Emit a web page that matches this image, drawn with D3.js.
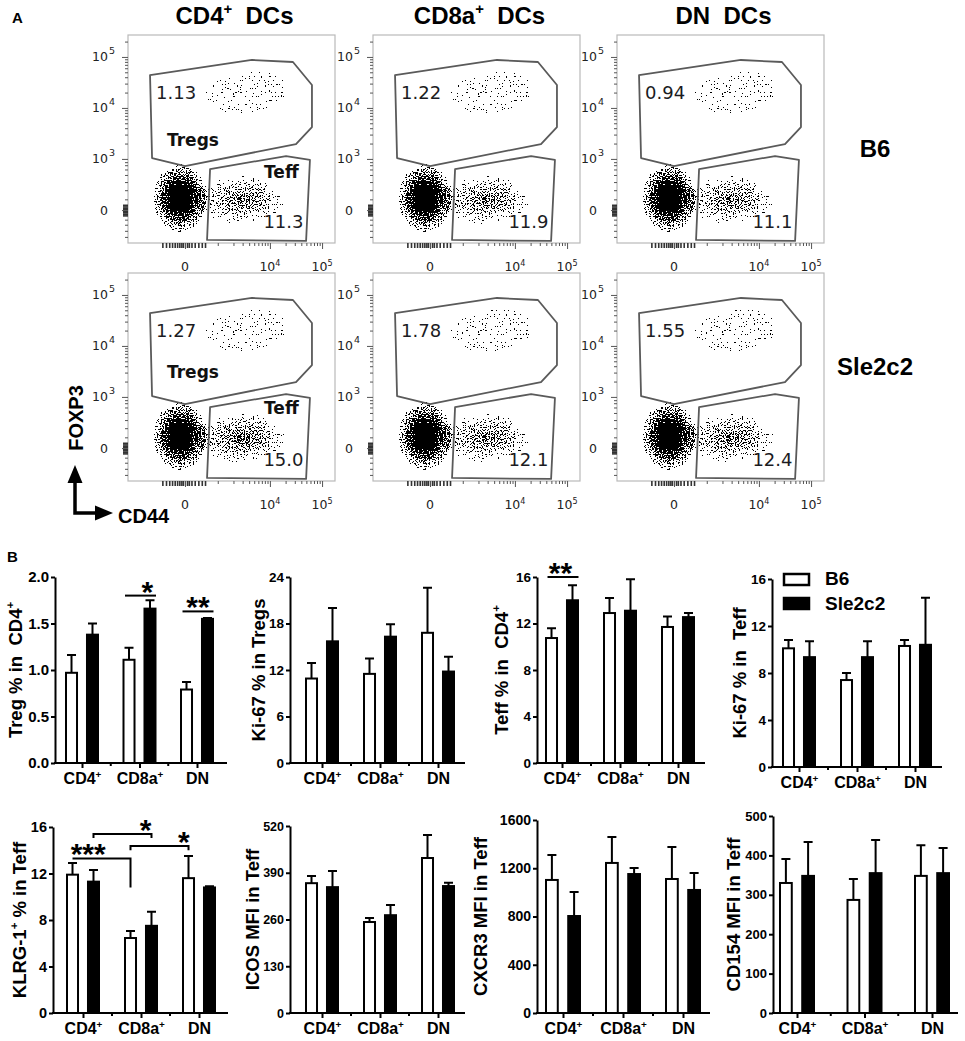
<!DOCTYPE html>
<html>
<head>
<meta charset="utf-8">
<title>DC subsets and CD4 T cells</title>
<script src="https://cdn.jsdelivr.net/npm/d3@7/dist/d3.min.js"></script>
<style>
  body { margin: 0; background: #fff; }
</style>
</head>
<body>
<script>
// ---------- data ----------
const dcSubsets = ["CD4^+  DCs", "CD8a^+  DCs", "DN  DCs"];
const strains = ["B6", "Sle2c2"];

// panel A: gate frequencies, rows = strains, columns = DC subsets
const tregGatePct = [[1.13, 1.22, 0.94], [1.27, 1.78, 1.55]];
const teffGatePct = [[11.3, 11.9, 11.1], [15.0, 12.1, 12.4]];

// panel A axes, in display channels (0-1024)
const flowXTicks = [282, 702, 960];
const flowXLabels = ["0", "10^4", "10^5"];
const flowYTicks = [162, 414, 665, 916];
const flowYLabels = ["0", "10^3", "10^4", "10^5"];

// gates, [CD44 channel, FOXP3 channel]
const tregGate = [[109, 827], [613, 901], [816, 891], [910, 778], [910, 571], [831, 487], [282, 379], [119, 418]];
const teffGate = [[406, 364], [782, 428], [900, 409], [881, 10], [391, 15]];

// cell clouds: [centre CD44, centre FOXP3, spread CD44, spread FOXP3]
const naiveCloud = [257, 222, 132, 168];
const teffCloud = [560, 212, 230, 128];
const tregCloud = [585, 740, 245, 115];

// panel B
const groups = ["CD4^+", "CD8a^+", "DN"];

const tregB6 = [0.97, 1.11, 0.79], tregB6Sem = [0.19, 0.13, 0.08];
const tregSle = [1.38, 1.66, 1.55], tregSleSem = [0.12, 0.09, 0.01];

const ki67TregB6 = [10.9, 11.5, 16.8], ki67TregB6Sem = [2.0, 2.0, 5.8];
const ki67TregSle = [15.7, 16.3, 11.8], ki67TregSleSem = [4.3, 1.6, 1.9];

const teffB6 = [10.75, 12.9, 11.7], teffB6Sem = [0.85, 1.3, 0.9];
const teffSle = [14.0, 13.1, 12.55], teffSleSem = [1.3, 2.7, 0.35];

const ki67TeffB6 = [10.1, 7.4, 10.3], ki67TeffB6Sem = [0.7, 0.6, 0.5];
const ki67TeffSle = [9.35, 9.35, 10.4], ki67TeffSleSem = [1.35, 1.35, 4.0];

const klrgB6 = [11.9, 6.45, 11.6], klrgB6Sem = [1.0, 0.6, 1.9];
const klrgSle = [11.3, 7.5, 10.8], klrgSleSem = [1.0, 1.2, 0.1];

const icosB6 = [361, 253, 431], icosB6Sem = [20, 11, 64];
const icosSle = [350, 272, 353], icosSleSem = [45, 28, 9];

const cxcr3B6 = [1103, 1244, 1111], cxcr3B6Sem = [207, 215, 265];
const cxcr3Sle = [804, 1152, 1020], cxcr3SleSem = [199, 50, 141];

const cd154B6 = [330, 287, 348], cd154B6Sem = [61, 53, 78];
const cd154Sle = [348, 355, 355], cd154SleSem = [86, 84, 64];

const tregSig = [
  {from: ["CD8a^+", "B6"], to: ["CD8a^+", "Sle2c2"], y: 1.80, label: "*"},
  {from: ["DN", "B6"], to: ["DN", "Sle2c2"], y: 1.63, label: "**"}
];
const teffSig = [
  {from: ["CD4^+", "B6"], to: ["CD4^+", "Sle2c2"], y: 16.0, label: "**"}
];
const klrgSig = [
  {from: ["CD4^+", "B6"], to: ["CD8a^+", "B6"], y: 13.3, yFrom: 13.3, yTo: 10.8, label: "***"},
  {from: ["CD4^+", "Sle2c2"], to: ["CD8a^+", "Sle2c2"], y: 15.4, yFrom: 15.05, yTo: 15.05, label: "*"},
  {from: ["CD8a^+", "B6"], to: ["DN", "B6"], y: 14.37, yFrom: 14.0, yTo: 14.0, label: "*"}
];

const charts = [
  {title: "Treg % in  CD4^+", b6: tregB6, b6Sem: tregB6Sem, sle: tregSle, sleSem: tregSleSem,
   ticks: [0, 0.5, 1.0, 1.5, 2.0], fmt: d3.format(".1f"), sig: tregSig},
  {title: "Ki-67 % in Tregs", b6: ki67TregB6, b6Sem: ki67TregB6Sem, sle: ki67TregSle, sleSem: ki67TregSleSem,
   ticks: [0, 6, 12, 18, 24], fmt: d3.format("d"), sig: []},
  {title: "Teff % in  CD4^+", b6: teffB6, b6Sem: teffB6Sem, sle: teffSle, sleSem: teffSleSem,
   ticks: [0, 4, 8, 12, 16], fmt: d3.format("d"), sig: teffSig},
  {title: "Ki-67 % in  Teff", b6: ki67TeffB6, b6Sem: ki67TeffB6Sem, sle: ki67TeffSle, sleSem: ki67TeffSleSem,
   ticks: [0, 4, 8, 12, 16], fmt: d3.format("d"), sig: [], legend: true},
  {title: "KLRG-1^+ % in Teff", b6: klrgB6, b6Sem: klrgB6Sem, sle: klrgSle, sleSem: klrgSleSem,
   ticks: [0, 4, 8, 12, 16], fmt: d3.format("d"), sig: klrgSig},
  {title: "ICOS MFI in Teff", b6: icosB6, b6Sem: icosB6Sem, sle: icosSle, sleSem: icosSleSem,
   ticks: [0, 130, 260, 390, 520], fmt: d3.format("d"), sig: []},
  {title: "CXCR3 MFI in Teff", b6: cxcr3B6, b6Sem: cxcr3B6Sem, sle: cxcr3Sle, sleSem: cxcr3SleSem,
   ticks: [0, 400, 800, 1200, 1600], fmt: d3.format("d"), sig: []},
  {title: "CD154 MFI in Teff", b6: cd154B6, b6Sem: cd154B6Sem, sle: cd154Sle, sleSem: cd154SleSem,
   ticks: [0, 100, 200, 300, 400, 500], fmt: d3.format("d"), sig: []}
];

// where each bar chart sits on the page
const layout = [
  {ax: 55,  end: 227, c1: 82,  c3: 197, base: 763,  top: 577, tx: 22,  half: 17, fs: 15,   starAt: [0.72, 0.5]},
  {ax: 290, end: 465, c1: 322, c3: 438, base: 763,  top: 577, tx: 265, half: 17, fs: 13.5},
  {ax: 537, end: 705, c1: 562, c3: 678, base: 763,  top: 577, tx: 508, half: 17, fs: 13.5, starAt: [0.42]},
  {ax: 772, end: 942, c1: 799, c3: 915, base: 767,  top: 579, tx: 746, half: 17, fs: 13.5},
  {ax: 53,  end: 228, c1: 83,  c3: 199, base: 1013, top: 827, tx: 26,  half: 17, fs: 14.5, starAt: [0.27, 0.9, 0.92]},
  {ax: 290, end: 465, c1: 322, c3: 438, base: 1013, top: 826, tx: 259, half: 17, fs: 12.5},
  {ax: 537, end: 710, c1: 563, c3: 683, base: 1013, top: 820, tx: 487, half: 18, fs: 14},
  {ax: 773, end: 958, c1: 797, c3: 932, base: 1013, top: 816, tx: 740, half: 18, fs: 13}
];

// ---------- drawing ----------
const FONT = '"Liberation Sans", Arial, Helvetica, sans-serif';
const FLOW_FONT = '"DejaVu Sans", Verdana, sans-serif';

const svg = d3.select("body").append("svg")
    .attr("width", 965)
    .attr("height", 1041)
    .attr("font-family", FONT);

// text with "^x" superscripts
function rich(sel, str, fs) {
  const parts = str.split("^");
  sel.append("tspan").text(parts[0]);
  parts.slice(1).forEach(p => {
    sel.append("tspan").attr("font-size", fs * 0.62).attr("dy", -fs * 0.42).text(p[0]);
    if (p.length > 1) sel.append("tspan").attr("font-size", fs).attr("dy", fs * 0.42).text(p.slice(1));
  });
}

const defs = svg.append("defs");

// speckle filter turns a soft density into scattered dots
const speckle = defs.append("filter").attr("id", "speckle")
    .attr("x", "-5%").attr("y", "-5%").attr("width", "110%").attr("height", "110%");
speckle.append("feTurbulence")
    .attr("type", "fractalNoise").attr("baseFrequency", 0.75)
    .attr("numOctaves", 1).attr("seed", 11).attr("result", "noise");
speckle.append("feColorMatrix")
    .attr("in", "noise").attr("type", "matrix")
    .attr("values", "0 0 0 0 0  0 0 0 0 0  0 0 0 0 0  2.5 0 0 0 -0.75")
    .attr("result", "grain");
speckle.append("feComposite")
    .attr("in", "SourceAlpha").attr("in2", "grain").attr("operator", "arithmetic")
    .attr("k1", 0).attr("k2", 1.5).attr("k3", 1).attr("k4", -0.95)
    .attr("result", "mix");
speckle.append("feComponentTransfer").attr("in", "mix")
  .append("feFuncA").attr("type", "discrete").attr("tableValues", "0 1");

function gradient(id, stops) {
  const gr = defs.append("radialGradient").attr("id", id);
  stops.forEach(s => gr.append("stop")
      .attr("offset", s[0]).attr("stop-color", "#000").attr("stop-opacity", s[1]));
}
gradient("coreGrad", [[0, 1], [0.38, 0.97], [0.62, 0.72], [1, 0.4]]);
gradient("cloudGrad", [[0, 0.82], [0.5, 0.62], [1, 0.32]]);
gradient("sparseGrad", [[0, 1], [0.7, 0.96], [1, 0.8]]);

// panel labels
svg.append("text").attr("x", 12).attr("y", 23).attr("font-size", 15).attr("font-weight", "bold").text("A");
svg.append("text").attr("x", 7).attr("y", 562).attr("font-size", 15).attr("font-weight", "bold").text("B");

// ---- panel A: flow plots ----
const flowLeft = [128, 373, 617];
const flowTop = [35, 273];
const boxW = 207, boxH = 208;

const fx = d3.scaleLinear().domain([0, 1024]).range([0, boxW]);
const fy = d3.scaleLinear().domain([0, 1024]).range([boxH, 0]);

const decX = flowXTicks[2] - flowXTicks[1];
const decY = flowYTicks[3] - flowYTicks[2];
const logMinor = (starts, dec) => starts.flatMap(s => d3.range(2, 10).map(k => s + dec * Math.log10(k)))
    .filter(v => v <= 1020);
const xMinor = logMinor([flowXTicks[1] - decX, flowXTicks[1], flowXTicks[2]], decX).concat([flowXTicks[1] - decX]);
const xZeroTicks = [170, 188, 204, 218, 231, 243, 254, 264, 272, 292, 301, 314, 330, 348, 365, 381];
const yMinor = logMinor([flowYTicks[1], flowYTicks[2], flowYTicks[3]], decY)
    .concat([30, 60, 90, 115, 215, 260, 300, 335, 362, 383, 398]);
const yZeroTicks = [136, 144, 151, 156, 168, 173, 180, 188];

const gateLine = d3.line().x(d => fx(d[0])).y(d => fy(d[1])).curve(d3.curveLinearClosed);

function ellipse(g, c, fill, op, angle) {
  g.append("ellipse")
      .attr("cx", fx(c[0])).attr("cy", fy(c[1]))
      .attr("rx", fx(c[0] + c[2]) - fx(c[0]))
      .attr("ry", fy(c[1]) - fy(c[1] + c[3]))
      .attr("transform", angle ? `rotate(${angle},${fx(c[0])},${fy(c[1])})` : null)
      .attr("fill", fill).attr("fill-opacity", op);
}

flowTop.forEach((top, r) => {
  flowLeft.forEach((left, c) => {
    const g = svg.append("g").attr("transform", `translate(${left},${top})`);

    defs.append("clipPath").attr("id", `clip-${r}-${c}`)
      .append("rect").attr("width", boxW).attr("height", boxH);

    // cells
    const cells = g.append("g").attr("clip-path", `url(#clip-${r}-${c})`)
      .append("g").attr("filter", "url(#speckle)");
    ellipse(cells, tregCloud, "url(#sparseGrad)", 0.332 + 0.008 * tregGatePct[r][c], -8);
    ellipse(cells, teffCloud, "url(#cloudGrad)", Math.min(1, 0.8 + 0.012 * (teffGatePct[r][c] - 11)));
    ellipse(cells, naiveCloud, "url(#coreGrad)", 1);

    // frame
    g.append("rect").attr("width", boxW).attr("height", boxH)
        .attr("fill", "none").attr("stroke", "#b9b9b9").attr("stroke-width", 1.2);

    // gates
    [tregGate, teffGate].forEach(gate => {
      g.append("path").attr("d", gateLine(gate))
          .attr("fill", "none").attr("stroke", "#5a5a5a").attr("stroke-width", 1.8)
          .attr("stroke-linejoin", "round");
    });

    // ticks
    const tickSet = (axisFn, scale, values, size) => {
      const a = g.append("g").call(axisFn(scale).tickValues(values).tickSize(size).tickFormat(""));
      a.select(".domain").remove();
      a.selectAll(".tick line").attr("stroke", "#555").attr("stroke-width", 1);
      return a;
    };
    tickSet(d3.axisLeft, fy, flowYTicks, 6);
    tickSet(d3.axisLeft, fy, yMinor, 3);
    tickSet(d3.axisLeft, fy, yZeroTicks, 5).selectAll(".tick line").attr("stroke-width", 1.6).attr("stroke", "#333");
    tickSet(d3.axisBottom, fx, flowXTicks, 6).attr("transform", `translate(0,${boxH})`);
    tickSet(d3.axisBottom, fx, xMinor, 3).attr("transform", `translate(0,${boxH})`);
    tickSet(d3.axisBottom, fx, xZeroTicks, 5).attr("transform", `translate(0,${boxH})`)
        .selectAll(".tick line").attr("stroke-width", 1.6).attr("stroke", "#333");

    // tick labels
    flowYTicks.forEach((v, i) => {
      const parts = flowYLabels[i].split("^");
      g.append("text").attr("x", -20).attr("y", fy(v) + 4.5)
          .attr("text-anchor", "end").attr("font-family", FLOW_FONT).attr("font-size", 12.5)
          .attr("fill", "#222").text(parts[0]);
      if (parts[1]) {
        g.append("text").attr("x", -19).attr("y", fy(v) - 3)
            .attr("font-family", FLOW_FONT).attr("font-size", 9.5).attr("fill", "#222").text(parts[1]);
      }
    });
    flowXTicks.forEach((v, i) => {
      g.append("text").attr("x", fx(v)).attr("y", boxH + 28)
          .attr("text-anchor", "middle").attr("font-family", FLOW_FONT).attr("font-size", 12.5)
          .attr("fill", "#222").call(t => rich(t, flowXLabels[i], 13));
    });

    // gate frequencies
    g.append("text").attr("x", fx(139)).attr("y", fy(709))
        .attr("font-family", FLOW_FONT).attr("font-size", 18).attr("fill", "#1b1b22")
        .text(d3.format(".2f")(tregGatePct[r][c]));
    g.append("text").attr("x", fx(868)).attr("y", fy(74)).attr("text-anchor", "end")
        .attr("font-family", FLOW_FONT).attr("font-size", 18).attr("fill", "#1b1b22")
        .text(d3.format(".1f")(teffGatePct[r][c]));

    if (c === 0) {
      g.append("text").attr("x", fx(193)).attr("y", fy(r === 0 ? 478 : 507))
          .attr("font-family", FLOW_FONT).attr("font-size", 17).attr("font-weight", "bold")
          .attr("fill", "#111").text("Tregs");
      g.append("text").attr("x", fx(673)).attr("y", fy(r === 0 ? 320 : 330))
          .attr("font-family", FLOW_FONT).attr("font-size", 17).attr("font-weight", "bold")
          .attr("fill", "#111").text("Teff");
    }

    if (r === 0) {
      svg.append("text").attr("x", left + boxW / 2 + 3).attr("y", 24)
          .attr("text-anchor", "middle").attr("font-size", 24).attr("font-weight", "bold")
          .style("white-space", "pre").call(t => rich(t, dcSubsets[c], 24));
    }
  });
});

// strain labels on the right
svg.append("text").attr("x", 875).attr("y", 157).attr("text-anchor", "middle")
    .attr("font-size", 24).attr("font-weight", "bold").text(strains[0]);
svg.append("text").attr("x", 875).attr("y", 375).attr("text-anchor", "middle")
    .attr("font-size", 24).attr("font-weight", "bold").text(strains[1]);

// FOXP3 / CD44 orientation arrows
const arrows = svg.append("g");
arrows.append("path").attr("d", "M75,482 V513 H96")
    .attr("fill", "none").attr("stroke", "#000").attr("stroke-width", 3.5);
arrows.append("path").attr("d", "M75,465 L67.5,483 L82.5,483 Z");
arrows.append("path").attr("d", "M113,513 L95,505.5 L95,520.5 Z");
svg.append("text").attr("transform", "translate(83,418) rotate(-90)")
    .attr("text-anchor", "middle").attr("font-size", 20).attr("font-weight", "bold").text("FOXP3");
svg.append("text").attr("x", 118).attr("y", 523)
    .attr("font-size", 20).attr("font-weight", "bold").text("CD44");

// ---- panel B: bar charts ----
charts.forEach((cfg, i) => {
  const L = layout[i];
  const g = svg.append("g");

  const y = d3.scaleLinear().domain([0, d3.max(cfg.ticks)]).range([L.base, L.top]);
  const x = d3.scalePoint().domain(groups).range([L.c1, L.c3]);
  const xs = d3.scaleBand().domain(strains).range([-L.half, L.half]).paddingInner(0.38);
  const bw = xs.bandwidth();

  const rows = groups.flatMap((grp, k) => [
    {grp, s: strains[0], v: cfg.b6[k], e: cfg.b6Sem[k]},
    {grp, s: strains[1], v: cfg.sle[k], e: cfg.sleSem[k]}
  ]);
  const cx = d => x(d.grp) + xs(d.s) + bw / 2;

  // error bars (upper only)
  g.selectAll(".err").data(rows).enter().append("path")
      .attr("class", "err")
      .attr("d", d => `M${cx(d)},${y(d.v)} V${y(d.v + d.e)} M${cx(d) - 4.5},${y(d.v + d.e)} H${cx(d) + 4.5}`)
      .attr("fill", "none").attr("stroke", "#000").attr("stroke-width", 2);

  // bars
  g.selectAll(".bar").data(rows).enter().append("rect")
      .attr("class", "bar")
      .attr("x", d => x(d.grp) + xs(d.s) + 1)
      .attr("width", bw - 2)
      .attr("y", d => y(d.v))
      .attr("height", d => y(0) - y(d.v))
      .attr("fill", d => d.s === "B6" ? "#fff" : "#000")
      .attr("stroke", "#000").attr("stroke-width", 2);

  // y axis
  const yAxis = d3.axisLeft(y).tickValues(cfg.ticks).tickSize(4).tickSizeOuter(0).tickPadding(2).tickFormat(cfg.fmt);
  const ya = g.append("g").attr("transform", `translate(${L.ax},0)`).call(yAxis);
  ya.select(".domain").attr("stroke-width", 2);
  ya.selectAll(".tick line").attr("stroke-width", 2);
  ya.selectAll("text").attr("font-family", FONT).attr("font-size", L.fs)
      .attr("font-weight", "bold").attr("fill", "#000");

  // x axis
  const xAxis = d3.axisBottom(x).tickSize(5).tickSizeOuter(0).tickPadding(5);
  const xa = g.append("g").attr("transform", `translate(0,${L.base})`).call(xAxis);
  xa.select(".domain").remove();
  xa.selectAll(".tick line").attr("stroke-width", 2);
  xa.selectAll("text").each(function(d) {
    const t = d3.select(this).text(null)
        .attr("font-family", FONT).attr("font-size", 16).attr("font-weight", "bold").attr("fill", "#000");
    rich(t, d, 16);
  });
  xa.append("line").attr("x1", L.ax - 1).attr("x2", L.end).attr("stroke", "#000").attr("stroke-width", 2);
  d3.pairs(groups).forEach(p => {
    const mx = (x(p[0]) + x(p[1])) / 2;
    xa.append("line").attr("x1", mx).attr("x2", mx).attr("y2", 3).attr("stroke", "#000").attr("stroke-width", 2);
  });

  // y title
  g.append("text")
      .attr("transform", `translate(${L.tx},${(L.base + L.top) / 2}) rotate(-90)`)
      .attr("text-anchor", "middle").attr("font-size", 18.5).attr("font-weight", "bold")
      .style("white-space", "pre").call(t => rich(t, cfg.title, 18.5));

  // significance
  cfg.sig.forEach((s, k) => {
    const a = {grp: s.from[0], s: s.from[1]}, b = {grp: s.to[0], s: s.to[1]};
    const same = a.grp === b.grp;
    const xa1 = cx(a) - (same ? 4 : 0), xb1 = cx(b) + (same ? 6 : 0);
    const yA = s.yFrom !== undefined ? s.yFrom : s.y;
    const yB = s.yTo !== undefined ? s.yTo : s.y;
    g.append("path").attr("d", `M${xa1},${y(yA)} V${y(s.y)} H${xb1} V${y(yB)}`)
        .attr("fill", "none").attr("stroke", "#000").attr("stroke-width", 2);
    const t = L.starAt ? L.starAt[k] : 0.5;
    g.append("text").attr("x", xa1 + t * (xb1 - xa1)).attr("y", y(s.y) + 6)
        .attr("text-anchor", "middle").attr("font-size", 30).attr("font-weight", "bold").text(s.label);
  });

  // legend
  if (cfg.legend) {
    const lg = g.append("g").attr("transform", `translate(${L.ax + 11},${L.top - 6})`);
    strains.forEach((s, k) => {
      lg.append("rect").attr("x", 1).attr("y", 1 + k * 24).attr("width", 25).attr("height", 11)
          .attr("fill", k === 0 ? "#fff" : "#000").attr("stroke", "#000").attr("stroke-width", 2.5);
      lg.append("text").attr("x", 42).attr("y", 12 + k * 25)
          .attr("font-size", 19).attr("font-weight", "bold").text(s);
    });
  }
});
</script>
</body>
</html>
